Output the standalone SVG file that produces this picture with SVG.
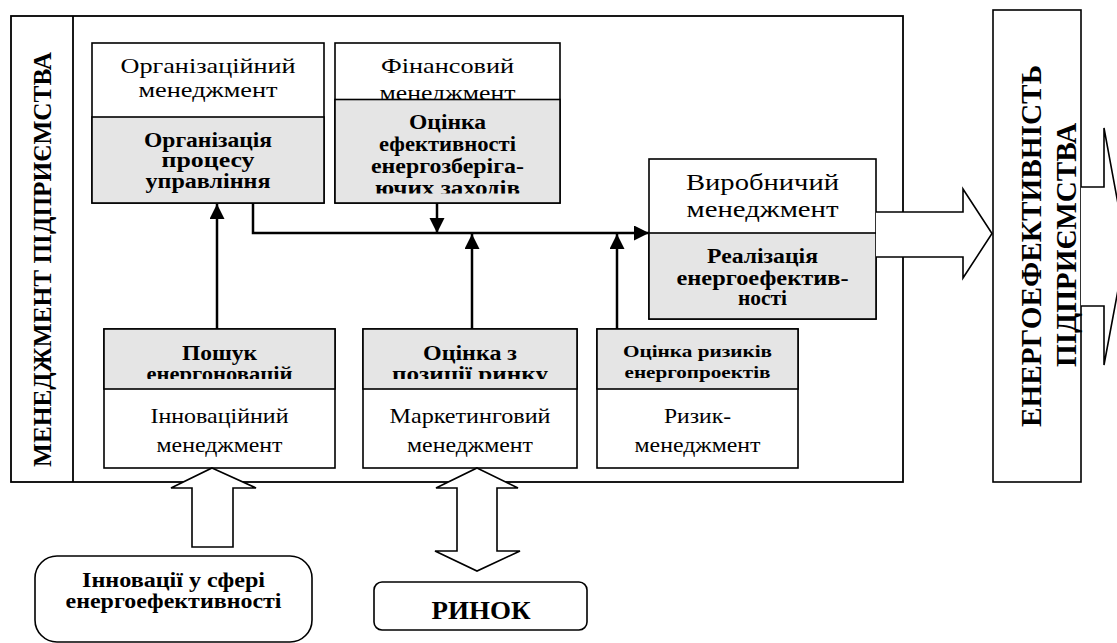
<svg xmlns="http://www.w3.org/2000/svg" width="1117" height="643" viewBox="0 0 1117 643">
<style>
.box{fill:#fff;stroke:#000;stroke-width:1.6}
.gray{fill:#e5e5e5;stroke:#000;stroke-width:1.6}
.frame{fill:#fff;stroke:#000;stroke-width:1.8}
.t{font-family:'Liberation Serif','DejaVu Serif','Times New Roman',serif;text-anchor:middle;fill:#000}
.r{font-size:21px}
.b{font-size:20px;font-weight:bold}
.conn{fill:none;stroke:#000;stroke-width:2.5}
.blk{fill:#fff;stroke:#000;stroke-width:1.6;stroke-linejoin:miter}
</style>
<defs>
<marker id="ah" markerUnits="userSpaceOnUse" markerWidth="16" markerHeight="16" refX="15" refY="7.5" orient="auto">
<path d="M0,0 L15,7.5 L0,15 z" fill="#000"/>
</marker>
<clipPath id="c1"><rect x="335" y="100" width="225" height="93.5"/></clipPath>
<clipPath id="c2"><rect x="104" y="329" width="231" height="50"/></clipPath>
<clipPath id="c3"><rect x="363" y="329" width="214" height="50"/></clipPath>
</defs>

<g id="frame">
<rect class="frame" x="11" y="16" width="892" height="466"/>
<line x1="73" y1="16" x2="73" y2="482" stroke="#000" stroke-width="1.8"/>
<text class="t" font-weight="bold" font-size="25" transform="translate(51,259.5) rotate(-90)" textLength="415" lengthAdjust="spacingAndGlyphs">МЕНЕДЖМЕНТ ПІДПРИЄМСТВА</text>
</g>

<g id="org">
<rect class="box" x="92" y="43" width="232" height="160"/>
<text class="t r" x="208" y="73" textLength="175" lengthAdjust="spacingAndGlyphs">Організаційний</text>
<text class="t r" x="208" y="97" textLength="139" lengthAdjust="spacingAndGlyphs">менеджмент</text>
<rect class="gray" x="92" y="117" width="232" height="86"/>
<text class="t b" x="208" y="147" textLength="128" lengthAdjust="spacingAndGlyphs">Організація</text>
<text class="t b" x="208" y="167" textLength="93" lengthAdjust="spacingAndGlyphs">процесу</text>
<text class="t b" x="208" y="188" textLength="125" lengthAdjust="spacingAndGlyphs">управління</text>
</g>

<g id="fin">
<rect class="box" x="335" y="43" width="225" height="160"/>
<text class="t r" x="447.5" y="73" textLength="133" lengthAdjust="spacingAndGlyphs">Фінансовий</text>
<text class="t r" x="447.5" y="100" textLength="136" lengthAdjust="spacingAndGlyphs">менеджмент</text>
<rect class="gray" x="335" y="99.5" width="225" height="103.5"/>
<text class="t b" x="447.5" y="129" textLength="77" lengthAdjust="spacingAndGlyphs">Оцінка</text>
<text class="t b" x="447.5" y="151" textLength="137" lengthAdjust="spacingAndGlyphs">ефективності</text>
<text class="t b" x="447.5" y="173" textLength="153" lengthAdjust="spacingAndGlyphs">енергозберіга-</text>
<text class="t b" x="447.5" y="195" textLength="145" lengthAdjust="spacingAndGlyphs" clip-path="url(#c1)">ючих заходів</text>
</g>

<g id="vyrob">
<rect class="box" x="649" y="159" width="227" height="160"/>
<text class="t" font-size="24" x="762.5" y="190" textLength="153" lengthAdjust="spacingAndGlyphs">Виробничий</text>
<text class="t" font-size="24" x="762.5" y="217" textLength="152" lengthAdjust="spacingAndGlyphs">менеджмент</text>
<rect class="gray" x="649" y="233" width="227" height="86"/>
<text class="t b" x="762.5" y="263" textLength="111" lengthAdjust="spacingAndGlyphs">Реалізація</text>
<text class="t b" x="762.5" y="285" textLength="172" lengthAdjust="spacingAndGlyphs">енергоефектив-</text>
<text class="t b" x="762.5" y="305" textLength="49" lengthAdjust="spacingAndGlyphs">ності</text>
</g>

<g id="innov">
<rect class="box" x="104" y="329" width="231" height="139"/>
<rect class="gray" x="104" y="329" width="231" height="60"/>
<text class="t b" x="219.5" y="360" textLength="75" lengthAdjust="spacingAndGlyphs">Пошук</text>
<text class="t b" x="219.5" y="381" textLength="146" lengthAdjust="spacingAndGlyphs" clip-path="url(#c2)">енергоновацій</text>
<text class="t r" x="219.5" y="423" textLength="138" lengthAdjust="spacingAndGlyphs">Інноваційний</text>
<text class="t r" x="219.5" y="452" textLength="126" lengthAdjust="spacingAndGlyphs">менеджмент</text>
</g>

<g id="market">
<rect class="box" x="363" y="329" width="214" height="139"/>
<rect class="gray" x="363" y="329" width="214" height="60"/>
<text class="t b" x="470" y="360" textLength="94" lengthAdjust="spacingAndGlyphs">Оцінка з</text>
<text class="t b" x="470" y="381" textLength="156" lengthAdjust="spacingAndGlyphs" clip-path="url(#c3)">позиції ринку</text>
<text class="t r" x="470" y="423" textLength="161" lengthAdjust="spacingAndGlyphs">Маркетинговий</text>
<text class="t r" x="470" y="452" textLength="126" lengthAdjust="spacingAndGlyphs">менеджмент</text>
</g>

<g id="risk">
<rect class="box" x="597" y="329" width="201" height="139"/>
<rect class="gray" x="597" y="329" width="201" height="60"/>
<text class="t" font-weight="bold" font-size="17" x="697.5" y="357" textLength="149" lengthAdjust="spacingAndGlyphs">Оцінка ризиків</text>
<text class="t" font-weight="bold" font-size="17" x="697.5" y="378" textLength="146" lengthAdjust="spacingAndGlyphs">енергопроектів</text>
<text class="t r" x="697.5" y="423" textLength="67" lengthAdjust="spacingAndGlyphs">Ризик-</text>
<text class="t r" x="697.5" y="452" textLength="126" lengthAdjust="spacingAndGlyphs">менеджмент</text>
</g>

<g id="energy-eff">
<rect class="box" x="993" y="10" width="88" height="472"/>
<text class="t" font-weight="bold" font-size="29" transform="translate(1041,246) rotate(-90)" textLength="362" lengthAdjust="spacingAndGlyphs">ЕНЕРГОЕФЕКТИВНІСТЬ</text>
<text class="t" font-weight="bold" font-size="29" transform="translate(1076,245) rotate(-90)" textLength="244" lengthAdjust="spacingAndGlyphs">ПІДПРИЄМСТВА</text>
</g>

<g id="innov-sphere">
<rect class="box" x="35" y="556" width="277" height="86" rx="22" ry="22"/>
<text class="t b" x="173.5" y="587" textLength="183" lengthAdjust="spacingAndGlyphs">Інновації у сфері</text>
<text class="t b" x="173.5" y="608" textLength="216" lengthAdjust="spacingAndGlyphs">енергоефективності</text>
</g>

<g id="rynok">
<rect class="box" x="374" y="582" width="213" height="48" rx="8" ry="8"/>
<text class="t" font-weight="bold" font-size="26" x="481" y="619" textLength="99" lengthAdjust="spacingAndGlyphs">РИНОК</text>
</g>

<g id="connectors">
<line class="conn" x1="217" y1="329" x2="217" y2="204" marker-end="url(#ah)"/>
<polyline class="conn" points="253,203 253,233 649,233" marker-end="url(#ah)"/>
<line class="conn" x1="437" y1="203" x2="437" y2="233" marker-end="url(#ah)"/>
<line class="conn" x1="472" y1="329" x2="472" y2="234" marker-end="url(#ah)"/>
<line class="conn" x1="617" y1="329" x2="617" y2="234" marker-end="url(#ah)"/>
<path class="blk" d="M876,212 H963 V189 L992,233.5 L963,278 V257 H876"/>
<path class="blk" d="M1081,187 H1104 V128 L1126,247 L1104,365 V306 H1081"/>
<polygon class="blk" points="212,468 256,488 233,488 233,547 192,547 192,488 171,488"/>
<polygon class="blk" points="477,468 518,488 497,488 497,551 520,551 477,571 435,551 457,551 457,488 436,488"/>
</g>
</svg>
